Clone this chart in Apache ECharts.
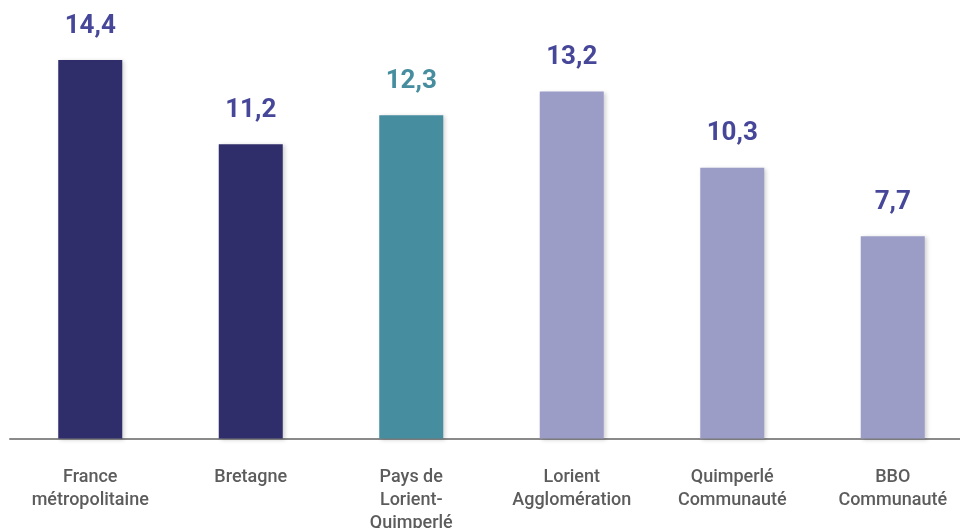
<!DOCTYPE html>
<html><head><meta charset="utf-8">
<script src="https://cdn.jsdelivr.net/npm/echarts@6/dist/echarts.min.js"></script>
<style>html,body{margin:0;padding:0;background:#fff}#c{width:960px;height:528px}</style>
</head><body><div id="c"></div>
<script>
const categories = ["France\nmétropolitaine", "Bretagne", "Pays de\nLorient-\nQuimperlé", "Lorient\nAgglomération", "Quimperlé\nCommunauté", "BBO\nCommunauté"];
const values = [14.4, 11.2, 12.3, 13.2, 10.3, 7.7];
const barColors = ["#302d6b", "#302d6b", "#468e9f", "#9c9dc7", "#9c9dc7", "#9c9dc7"];
const labelColors = ["#47479a", "#47479a", "#468e9f", "#47479a", "#47479a", "#47479a"];

const chart = echarts.init(document.getElementById('c'), null, {renderer: 'canvas'});
chart.setOption({
  animation: false,
  grid: {left: 10, right: -13, top: 18, bottom: 89.5, containLabel: false, outerBoundsMode: 'none'},
  xAxis: {
    type: 'category',
    data: categories,
    axisLine: {show: true, lineStyle: {color: '#8a8a8a', width: 2}},
    axisTick: {show: false},
    axisLabel: {
      interval: 0, color: '#5c5c5c', fontSize: 18, lineHeight: 23, fontWeight: 500,
      fontFamily: 'Roboto', margin: 27, letterSpacing: 0.5
    }
  },
  yAxis: {
    type: 'value', min: 0, max: 16, show: false,
    splitLine: {show: false}
  },
  series: [{
    type: 'bar',
    barWidth: 64,
    data: values.map((v, i) => ({
      value: v,
      itemStyle: {color: barColors[i], shadowColor: 'rgba(0,0,0,0.18)', shadowBlur: 4, shadowOffsetX: 2, shadowOffsetY: 1},
      label: {color: labelColors[i]}
    })),
    label: {
      show: true, position: 'top', distance: 21,
      fontSize: 26, fontWeight: 'bold', fontFamily: 'Roboto',
      formatter: p => String(p.value).replace('.', ',')
    }
  }]
});
</script></body></html>
